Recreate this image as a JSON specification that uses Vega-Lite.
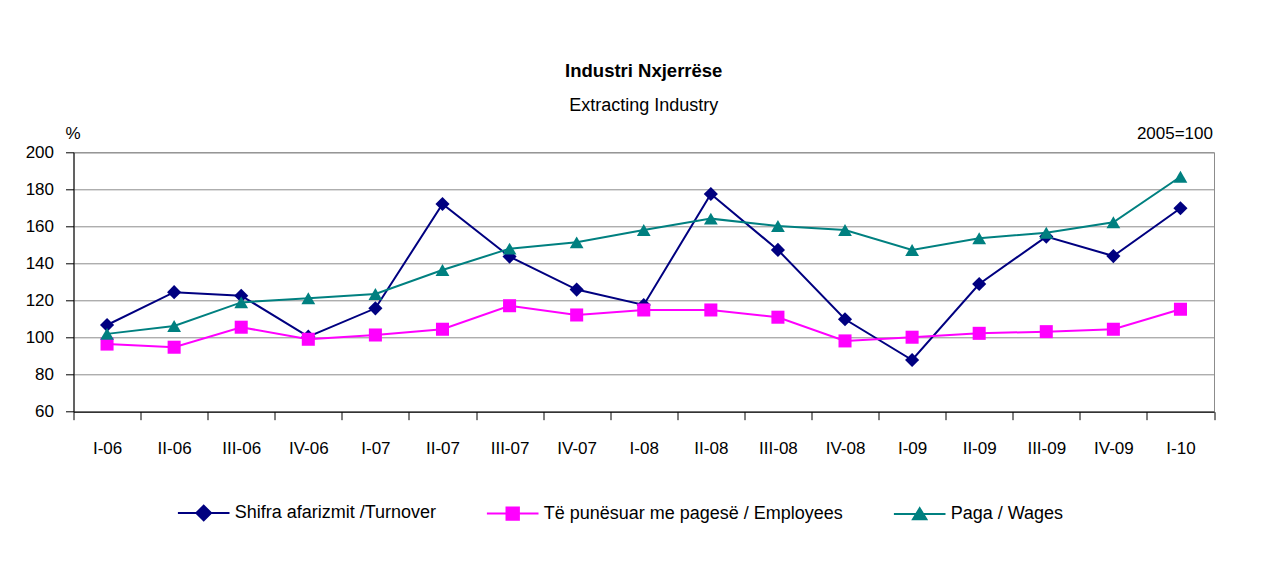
{
  "$schema": "https://vega.github.io/schema/vega-lite/v6.json",
  "width": 1140.5,
  "height": 259.4,
  "autosize": {"type": "none"},
  "padding": {"left": 73.5, "top": 152.3, "right": 48, "bottom": 160.3},
  "background": "white",
  "title": {
    "text": "Industri Nxjerrëse",
    "subtitle": "Extracting Industry",
    "anchor": "middle",
    "offset": 9,
    "font": "Liberation Sans",
    "fontSize": 18.5,
    "fontWeight": "bold",
    "color": "black",
    "subtitleFont": "Liberation Sans",
    "subtitleFontSize": 18,
    "subtitleColor": "black",
    "subtitlePadding": 17
  },
  "config": {
    "font": "Liberation Sans",
    "view": {"stroke": "#8c8c8c", "strokeWidth": 1},
    "axis": {
      "labelFont": "Liberation Sans",
      "titleFont": "Liberation Sans",
      "labelColor": "black",
      "titleColor": "black",
      "labelFontSize": 17,
      "titleFontSize": 17,
      "titleFontWeight": "normal",
      "domainColor": "black",
      "tickColor": "black",
      "tickSize": 8
    },
    "legend": {
      "labelFont": "Liberation Sans",
      "labelFontSize": 18,
      "labelColor": "black"
    }
  },
  "data": {
    "values": [
      {"q": "I-06", "s": "Shifra afarizmit /Turnover", "v": 106.8},
      {"q": "II-06", "s": "Shifra afarizmit /Turnover", "v": 124.5},
      {"q": "III-06", "s": "Shifra afarizmit /Turnover", "v": 122.6},
      {"q": "IV-06", "s": "Shifra afarizmit /Turnover", "v": 100.5},
      {"q": "I-07", "s": "Shifra afarizmit /Turnover", "v": 115.8},
      {"q": "II-07", "s": "Shifra afarizmit /Turnover", "v": 172.1},
      {"q": "III-07", "s": "Shifra afarizmit /Turnover", "v": 143.7},
      {"q": "IV-07", "s": "Shifra afarizmit /Turnover", "v": 125.9},
      {"q": "I-08", "s": "Shifra afarizmit /Turnover", "v": 117.6},
      {"q": "II-08", "s": "Shifra afarizmit /Turnover", "v": 177.5},
      {"q": "III-08", "s": "Shifra afarizmit /Turnover", "v": 147.3},
      {"q": "IV-08", "s": "Shifra afarizmit /Turnover", "v": 109.9},
      {"q": "I-09", "s": "Shifra afarizmit /Turnover", "v": 87.9},
      {"q": "II-09", "s": "Shifra afarizmit /Turnover", "v": 128.9},
      {"q": "III-09", "s": "Shifra afarizmit /Turnover", "v": 154.5},
      {"q": "IV-09", "s": "Shifra afarizmit /Turnover", "v": 144.0},
      {"q": "I-10", "s": "Shifra afarizmit /Turnover", "v": 169.8},
      {"q": "I-06", "s": "Të punësuar me pagesë / Employees", "v": 96.5},
      {"q": "II-06", "s": "Të punësuar me pagesë / Employees", "v": 94.8},
      {"q": "III-06", "s": "Të punësuar me pagesë / Employees", "v": 105.6},
      {"q": "IV-06", "s": "Të punësuar me pagesë / Employees", "v": 99.1},
      {"q": "I-07", "s": "Të punësuar me pagesë / Employees", "v": 101.4},
      {"q": "II-07", "s": "Të punësuar me pagesë / Employees", "v": 104.5},
      {"q": "III-07", "s": "Të punësuar me pagesë / Employees", "v": 117.2},
      {"q": "IV-07", "s": "Të punësuar me pagesë / Employees", "v": 112.2},
      {"q": "I-08", "s": "Të punësuar me pagesë / Employees", "v": 114.9},
      {"q": "II-08", "s": "Të punësuar me pagesë / Employees", "v": 114.9},
      {"q": "III-08", "s": "Të punësuar me pagesë / Employees", "v": 111.0},
      {"q": "IV-08", "s": "Të punësuar me pagesë / Employees", "v": 98.2},
      {"q": "I-09", "s": "Të punësuar me pagesë / Employees", "v": 100.2},
      {"q": "II-09", "s": "Të punësuar me pagesë / Employees", "v": 102.3},
      {"q": "III-09", "s": "Të punësuar me pagesë / Employees", "v": 103.2},
      {"q": "IV-09", "s": "Të punësuar me pagesë / Employees", "v": 104.5},
      {"q": "I-10", "s": "Të punësuar me pagesë / Employees", "v": 115.3},
      {"q": "I-06", "s": "Paga / Wages", "v": 102.0},
      {"q": "II-06", "s": "Paga / Wages", "v": 106.3},
      {"q": "III-06", "s": "Paga / Wages", "v": 119.0},
      {"q": "IV-06", "s": "Paga / Wages", "v": 121.2},
      {"q": "I-07", "s": "Paga / Wages", "v": 123.5},
      {"q": "II-07", "s": "Paga / Wages", "v": 136.5},
      {"q": "III-07", "s": "Paga / Wages", "v": 148.0},
      {"q": "IV-07", "s": "Paga / Wages", "v": 151.4},
      {"q": "I-08", "s": "Paga / Wages", "v": 158.1},
      {"q": "II-08", "s": "Paga / Wages", "v": 164.2},
      {"q": "III-08", "s": "Paga / Wages", "v": 160.2},
      {"q": "IV-08", "s": "Paga / Wages", "v": 158.1},
      {"q": "I-09", "s": "Paga / Wages", "v": 147.3},
      {"q": "II-09", "s": "Paga / Wages", "v": 153.6},
      {"q": "III-09", "s": "Paga / Wages", "v": 156.6},
      {"q": "IV-09", "s": "Paga / Wages", "v": 162.2},
      {"q": "I-10", "s": "Paga / Wages", "v": 186.8}
    ]
  },
  "encoding": {
    "x": {
      "field": "q",
      "type": "nominal",
      "sort": null,
      "bandPosition": 0.5,
      "scale": {"type": "band", "paddingInner": 0, "paddingOuter": 0},
      "axis": {
        "title": null,
        "labelAngle": 0,
        "tickBand": "extent",
        "labelPadding": 21,
        "grid": false,
        "domainColor": "black"
      }
    }
  },
  "layer": [
    {
      "encoding": {
        "y": {
          "field": "v",
          "type": "quantitative",
          "scale": {"domain": [60, 200], "nice": false, "zero": false},
          "axis": {
            "orient": "left",
            "values": [60, 80, 100, 120, 140, 160, 180, 200],
            "grid": true,
            "gridColor": "#8c8c8c",
            "gridWidth": 1,
            "labelPadding": 12,
            "title": "%",
            "titleAngle": 0,
            "titleAlign": "center",
            "titleBaseline": "alphabetic",
            "titleX": -1,
            "titleY": -14
          }
        },
        "color": {
          "field": "s",
          "type": "nominal",
          "sort": null,
          "scale": {
            "domain": ["Shifra afarizmit /Turnover", "Të punësuar me pagesë / Employees", "Paga / Wages"],
            "range": ["#000080", "#ff00ff", "#008080"]
          },
          "legend": {
            "title": null,
            "orient": "none",
            "direction": "horizontal",
            "legendX": 103.2,
            "legendY": 333.4,
            "padding": 0,
            "symbolType": "stroke",
            "symbolSize": 2663,
            "symbolStrokeWidth": 2,
            "labelOffset": 4,
            "labelLimit": 600,
            "labelBaseline": "middle",
            "columnPadding": 46,
            "encode": {
              "symbols": {
                "update": {
                  "shape": {"signal": "datum.value === 'Shifra afarizmit /Turnover' ? 'M-1,0H1M0,-0.285L0.285,0L0,0.285L-0.285,0Z' : datum.value === 'Paga / Wages' ? 'M-1,0H1M0,-0.23L0.26,0.2L-0.26,0.2Z' : 'M-1,0H1M-0.24,-0.24H0.24V0.24H-0.24Z'"},
                  "fill": {"signal": "scale('color', datum.value)"},
                  "fillOpacity": {"value": 1},
                  "strokeWidth": {"value": 2}
                }
              }
            }
          }
        }
      },
      "layer": [
        {"mark": {"type": "line", "strokeWidth": 2}},
        {
          "transform": [{"filter": "datum.s === 'Shifra afarizmit /Turnover'"}],
          "mark": {"type": "point", "shape": "diamond", "filled": true, "opacity": 1, "size": 200}
        },
        {
          "transform": [{"filter": "datum.s === 'Të punësuar me pagesë / Employees'"}],
          "mark": {"type": "point", "shape": "square", "filled": true, "opacity": 1, "size": 170}
        },
        {
          "transform": [{"filter": "datum.s === 'Paga / Wages'"}],
          "mark": {"type": "point", "shape": "triangle-up", "filled": true, "opacity": 1, "size": 190}
        }
      ]
    },
    {
      "mark": {"type": "line", "opacity": 0},
      "encoding": {
        "detail": {"field": "s", "type": "nominal"},
        "y": {
          "field": "v",
          "type": "quantitative",
          "scale": {"domain": [60, 200], "nice": false, "zero": false},
          "axis": {
            "orient": "right",
            "labels": false,
            "ticks": false,
            "domain": false,
            "grid": false,
            "title": "2005=100",
            "titleAngle": 0,
            "titleAlign": "right",
            "titleBaseline": "alphabetic",
            "titleX": -1.5,
            "titleY": -14
          }
        }
      }
    }
  ],
  "resolve": {"axis": {"y": "independent"}}
}
